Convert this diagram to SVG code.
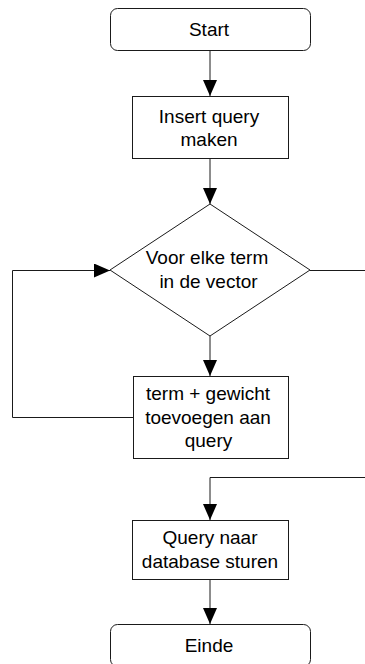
<svg xmlns="http://www.w3.org/2000/svg" width="365" height="664" viewBox="0 0 365 664">
  <style>
    .node { fill: #ffffff; stroke: #1a1a1a; stroke-width: 1; }
    .label { font-family: "Liberation Sans", Arial, sans-serif; font-size: 19px; fill: #000000; text-anchor: middle; }
    .conn { fill: none; stroke: #1a1a1a; stroke-width: 1; }
  </style>
  <defs>
    <marker id="arrow" viewBox="0 0 16 14" refX="16" refY="7" markerWidth="16" markerHeight="14" markerUnits="userSpaceOnUse" orient="auto">
      <path d="M0,0 L16,7 L0,14 z" fill="#000000"/>
    </marker>
  </defs>
  <rect width="365" height="664" fill="#ffffff"/>

  <g id="connectors">
    <path class="conn" d="M210,50 L210,96" marker-end="url(#arrow)"/>
    <path class="conn" d="M210,158 L210,204" marker-end="url(#arrow)"/>
    <path class="conn" d="M210,336 L210,376" marker-end="url(#arrow)"/>
    <path class="conn" d="M133,417.5 L12.5,417.5 L12.5,270.5 L110,270.5" marker-end="url(#arrow)"/>
    <path class="conn" d="M310,270.5 L365,270.5"/>
    <path class="conn" d="M365,477.5 L210,477.5 L210,520" marker-end="url(#arrow)"/>
    <path class="conn" d="M210,579 L210,624" marker-end="url(#arrow)"/>
  </g>

  <g id="start">
    <rect class="node" x="110.5" y="8.5" width="200" height="42" rx="7"/>
    <text class="label" x="209" y="36">Start</text>
  </g>

  <g id="insert-query">
    <rect class="node" x="132.5" y="96.5" width="156" height="62"/>
    <text class="label" x="209" y="123">Insert query</text>
    <text class="label" x="209" y="146">maken</text>
  </g>

  <g id="for-each-term">
    <polygon class="node" points="210,204 310,270 210,336 110,270"/>
    <text class="label" x="207" y="264">Voor elke term</text>
    <text class="label" x="208.5" y="288">in de vector</text>
  </g>

  <g id="add-term">
    <rect class="node" x="133.5" y="376.5" width="155" height="82"/>
    <text class="label" x="208" y="400">term + gewicht</text>
    <text class="label" x="208" y="424">toevoegen aan</text>
    <text class="label" x="208.5" y="447">query</text>
  </g>

  <g id="send-query">
    <rect class="node" x="132.5" y="520.5" width="156" height="59"/>
    <text class="label" x="210" y="544">Query naar</text>
    <text class="label" x="210" y="568">database sturen</text>
  </g>

  <g id="end">
    <rect class="node" x="110.5" y="624.5" width="200" height="42" rx="7"/>
    <text class="label" x="209" y="652">Einde</text>
  </g>
</svg>
